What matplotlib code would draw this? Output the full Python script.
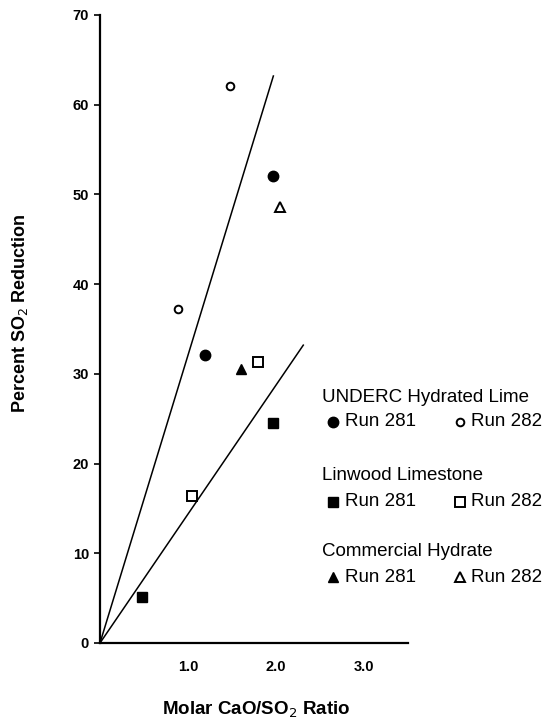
import matplotlib
matplotlib.use("Agg")
import matplotlib.pyplot as plt
from matplotlib.lines import Line2D
import numpy as np

plt.rcParams['font.family'] = ['Liberation Sans', 'DejaVu Sans']

# Data
underc_281_x = [1.19, 1.97]
underc_281_y = [32.1, 52.0]
underc_282_x = [0.89, 1.48]
underc_282_y = [37.2, 62.1]
linwood_281_x = [0.48, 1.97]
linwood_281_y = [5.1, 24.5]
linwood_282_x = [1.04, 1.79]
linwood_282_y = [16.4, 31.3]
commercial_281_x = [1.60]
commercial_281_y = [30.5]
commercial_282_x = [2.04]
commercial_282_y = [48.6]

steep_line_x = [0.0, 1.97]
steep_line_y = [0.0, 63.2]
shallow_line_x = [0.0, 2.31]
shallow_line_y = [0.0, 33.2]

y_ticks = [0, 10, 20, 30, 40, 50, 60, 70]
x_ticks = [1.0, 2.0, 3.0]
x_tick_labels = ['1.0', '2.0', '3.0']

W, H = 545, 720
fig = plt.figure(figsize=(W / 100, H / 100), dpi=100)
ax = fig.add_axes([100 / W, 1 - 643 / H, 308 / W, 628 / H])

ax.plot(steep_line_x, steep_line_y, color='black', lw=1.1)
ax.plot(shallow_line_x, shallow_line_y, color='black', lw=1.1)

ms = 7.5
ax.plot(underc_281_x, underc_281_y, 'o', color='black', ms=ms, ls='none')
ax.plot(underc_282_x, underc_282_y, 'o', mfc='white', mec='black', mew=1.4, ms=5.5, ls='none')
ax.plot(linwood_281_x, linwood_281_y, 's', color='black', ms=ms, ls='none')
ax.plot(linwood_282_x, linwood_282_y, 's', mfc='white', mec='black', mew=1.4, ms=ms, ls='none')
ax.plot(commercial_281_x, commercial_281_y, '^', color='black', ms=ms, ls='none')
ax.plot(commercial_282_x, commercial_282_y, '^', mfc='white', mec='black', mew=1.4, ms=ms, ls='none')

ax.set_xlim(0, 3.5)
ax.set_ylim(0, 70)
ax.spines['top'].set_visible(False)
ax.spines['right'].set_visible(False)
ax.spines['left'].set_linewidth(1.6)
ax.spines['bottom'].set_linewidth(1.6)
ax.set_yticks(y_ticks)
ax.set_yticklabels([str(v) for v in y_ticks], fontsize=10.5, fontweight='bold')
ax.set_xticks(x_ticks)
ax.set_xticklabels(x_tick_labels, fontsize=10.5, fontweight='bold')
ax.tick_params(axis='y', length=4, width=1.2, pad=4)
ax.tick_params(axis='x', length=0, pad=12)

fig.text(20 / W, 1 - 313 / H, 'Percent SO$_2$ Reduction', rotation=90,
         ha='center', va='center', fontsize=13, fontweight='bold')
fig.text(256 / W, 1 - 710 / H, 'Molar CaO/SO$_2$ Ratio',
         ha='center', va='center', fontsize=13.5, fontweight='bold')

# Legend-like key
def fx(px):
    return px / W

def fy(py):
    return 1 - py / H

groups = [
    ('UNDERC Hydrated Lime', 397, 422, 'o', 'o', 5.5),
    ('Linwood Limestone', 475, 502, 's', 's', ms),
    ('Commercial Hydrate', 552, 577, '^', '^', ms),
]
for title, ty, ry, m1, m2, ms2 in groups:
    fig.text(fx(322), fy(ty), title, ha='left', va='center', fontsize=13.5)
    fig.add_artist(Line2D([fx(333)], [fy(ry)], marker=m1, color='black', ms=ms,
                          ls='none', transform=fig.transFigure))
    fig.text(fx(345), fy(ry), 'Run 281', ha='left', va='center', fontsize=13.5)
    fig.add_artist(Line2D([fx(460)], [fy(ry)], marker=m2, mfc='white', mec='black',
                          mew=1.4, ms=ms2, ls='none', transform=fig.transFigure))
    fig.text(fx(471), fy(ry), 'Run 282', ha='left', va='center', fontsize=13.5)

fig.savefig('out.png', dpi=100, facecolor='white')
